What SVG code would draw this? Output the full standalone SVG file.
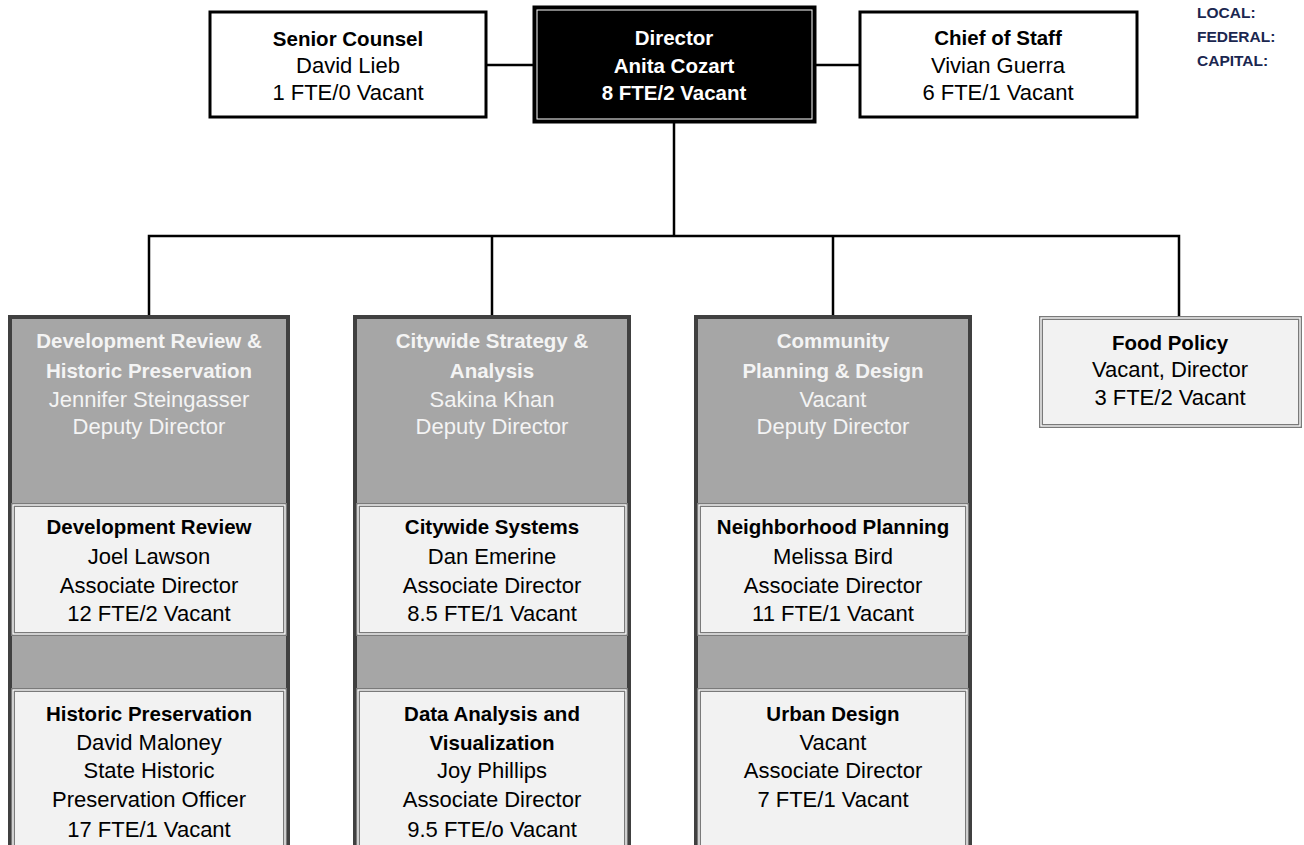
<svg xmlns="http://www.w3.org/2000/svg" width="1304" height="845" viewBox="0 0 1304 845">
<style>
text{font-family:"Liberation Sans",Arial,sans-serif;text-anchor:middle}
.b{font-weight:bold;font-size:20.5px}
.r{font-size:22px}
.blk{fill:#000}
.wht{fill:#ffffff}
.gt{fill:#f4f4f4}
.top{fill:#fff;stroke:#000;stroke-width:3}
.dir{fill:#000;stroke:#000;stroke-width:3}
.gray{fill:#a6a6a6;stroke:#404040;stroke-width:4}
.dbl1{fill:#f2f2f2;stroke:#7a7a7a;stroke-width:4}
.dbl2{fill:none;stroke:#ffffff;stroke-width:1.3}
.conn{fill:none;stroke:#000;stroke-width:2.5}
.leg{font-family:"Liberation Sans",Arial,sans-serif;font-weight:bold;font-size:15.5px;fill:#1b2750;text-anchor:start}
</style>
<rect width="1304" height="845" fill="#fff"/>
<g id="connectors">
<line class="conn" x1="486" y1="65" x2="534" y2="65"/>
<line class="conn" x1="815" y1="65" x2="860" y2="65"/>
<line class="conn" x1="674" y1="122" x2="674" y2="236"/>
<polyline class="conn" points="149,317 149,236 1179,236 1179,317"/>
<line class="conn" x1="492" y1="236" x2="492" y2="317"/>
<line class="conn" x1="833" y1="236" x2="833" y2="317"/>
</g>
<g id="senior-counsel">
<rect class="top" x="210" y="12" width="276" height="105"/>
<text class="b blk" x="348" y="46">Senior Counsel</text>
<text class="r blk" x="348" y="73">David Lieb</text>
<text class="r blk" x="348" y="100">1 FTE/0 Vacant</text>
</g>
<g id="director">
<rect class="dir" x="534" y="7" width="281" height="115"/>
<rect x="537" y="10" width="275" height="109" fill="none" stroke="#fff" stroke-width="1"/>
<text class="b wht" x="674" y="45">Director</text>
<text class="b wht" x="674" y="73">Anita Cozart</text>
<text class="b wht" x="674" y="100">8 FTE/2 Vacant</text>
</g>
<g id="chief-of-staff">
<rect class="top" x="860" y="12" width="277" height="105"/>
<text class="b blk" x="998" y="45">Chief of Staff</text>
<text class="r blk" x="998" y="73">Vivian Guerra</text>
<text class="r blk" x="998" y="100">6 FTE/1 Vacant</text>
</g>
<g id="legend">
<text class="leg" x="1197" y="18">LOCAL:</text>
<text class="leg" x="1197" y="42">FEDERAL:</text>
<text class="leg" x="1197" y="66">CAPITAL:</text>
</g>
<g id="dev-review-hp">
<rect class="gray" x="10" y="317" width="278" height="560"/>
<text class="b gt" x="149" y="348">Development Review &amp;</text>
<text class="b gt" x="149" y="378">Historic Preservation</text>
<text class="r gt" x="149" y="407">Jennifer Steingasser</text>
<text class="r gt" x="149" y="434">Deputy Director</text>
</g>
<g id="development-review">
<rect class="dbl1" x="13" y="505" width="272" height="129"/>
<rect class="dbl2" x="13" y="505" width="272" height="129"/>
<text class="b blk" x="149" y="534">Development Review</text>
<text class="r blk" x="149" y="564">Joel Lawson</text>
<text class="r blk" x="149" y="593">Associate Director</text>
<text class="r blk" x="149" y="621">12 FTE/2 Vacant</text>
</g>
<g id="historic-preservation">
<rect class="dbl1" x="13" y="690" width="272" height="180"/>
<rect class="dbl2" x="13" y="690" width="272" height="180"/>
<text class="b blk" x="149" y="721">Historic Preservation</text>
<text class="r blk" x="149" y="750">David Maloney</text>
<text class="r blk" x="149" y="778">State Historic</text>
<text class="r blk" x="149" y="807">Preservation Officer</text>
<text class="r blk" x="149" y="837">17 FTE/1 Vacant</text>
</g>
<g id="citywide-strategy">
<rect class="gray" x="355" y="317" width="274" height="560"/>
<text class="b gt" x="492" y="348">Citywide Strategy &amp;</text>
<text class="b gt" x="492" y="378">Analysis</text>
<text class="r gt" x="492" y="407">Sakina Khan</text>
<text class="r gt" x="492" y="434">Deputy Director</text>
</g>
<g id="citywide-systems">
<rect class="dbl1" x="358" y="505" width="268" height="129"/>
<rect class="dbl2" x="358" y="505" width="268" height="129"/>
<text class="b blk" x="492" y="534">Citywide Systems</text>
<text class="r blk" x="492" y="564">Dan Emerine</text>
<text class="r blk" x="492" y="593">Associate Director</text>
<text class="r blk" x="492" y="621">8.5 FTE/1 Vacant</text>
</g>
<g id="data-analysis">
<rect class="dbl1" x="358" y="690" width="268" height="180"/>
<rect class="dbl2" x="358" y="690" width="268" height="180"/>
<text class="b blk" x="492" y="721">Data Analysis and</text>
<text class="b blk" x="492" y="750">Visualization</text>
<text class="r blk" x="492" y="778">Joy Phillips</text>
<text class="r blk" x="492" y="807">Associate Director</text>
<text class="r blk" x="492" y="837">9.5 FTE/o Vacant</text>
</g>
<g id="community-planning">
<rect class="gray" x="696" y="317" width="274" height="560"/>
<text class="b gt" x="833" y="348">Community</text>
<text class="b gt" x="833" y="378">Planning &amp; Design</text>
<text class="r gt" x="833" y="407">Vacant</text>
<text class="r gt" x="833" y="434">Deputy Director</text>
</g>
<g id="neighborhood-planning">
<rect class="dbl1" x="699" y="505" width="268" height="129"/>
<rect class="dbl2" x="699" y="505" width="268" height="129"/>
<text class="b blk" x="833" y="534">Neighborhood Planning</text>
<text class="r blk" x="833" y="564">Melissa Bird</text>
<text class="r blk" x="833" y="593">Associate Director</text>
<text class="r blk" x="833" y="621">11 FTE/1 Vacant</text>
</g>
<g id="urban-design">
<rect class="dbl1" x="699" y="690" width="268" height="180"/>
<rect class="dbl2" x="699" y="690" width="268" height="180"/>
<text class="b blk" x="833" y="721">Urban Design</text>
<text class="r blk" x="833" y="750">Vacant</text>
<text class="r blk" x="833" y="778">Associate Director</text>
<text class="r blk" x="833" y="807">7 FTE/1 Vacant</text>
</g>
<g id="food-policy">
<rect class="dbl1" x="1041" y="318" width="259" height="108"/>
<rect class="dbl2" x="1041" y="318" width="259" height="108"/>
<text class="b blk" x="1170" y="350">Food Policy</text>
<text class="r blk" x="1170" y="377">Vacant, Director</text>
<text class="r blk" x="1170" y="405">3 FTE/2 Vacant</text>
</g>
</svg>
